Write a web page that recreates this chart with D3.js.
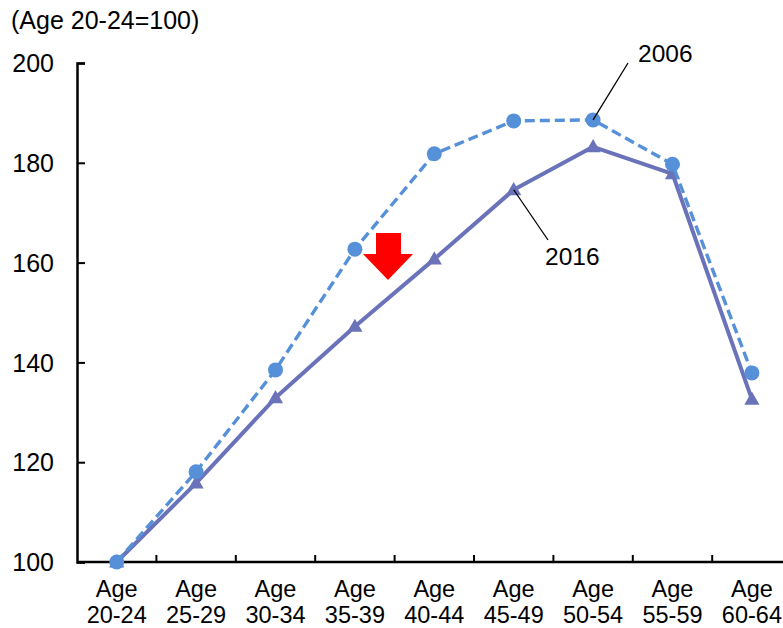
<!DOCTYPE html>
<html>
<head>
<meta charset="utf-8">
<script src="https://cdn.jsdelivr.net/npm/d3@7/dist/d3.min.js"></script>
<style>
body{margin:0;background:#fff;}
text{font-family:"Liberation Sans",Arial,sans-serif;fill:#000;}
</style>
</head>
<body>
<svg id="chart" width="783" height="628"></svg>
<script>
const categories = ["Age\n20-24","Age\n25-29","Age\n30-34","Age\n35-39","Age\n40-44","Age\n45-49","Age\n50-54","Age\n55-59","Age\n60-64"];
const values2006 = [100, 118.1, 138.5, 162.7, 181.8, 188.4, 188.6, 179.7, 137.9];
const values2016 = [100, 115.8, 132.9, 147.2, 160.7, 174.6, 183.2, 177.8, 132.6];
const yTicks = [100, 120, 140, 160, 180, 200];
const yTitle = "(Age 20-24=100)";

const svg = d3.select("#chart");
const mLeft = 77, mTop = 63, mBottom = 562;
const bandW = 79.4;
const x = d3.scaleBand().domain(categories).range([mLeft, mLeft + bandW*categories.length]).padding(0);
const y = d3.scaleLinear().domain([100, 200]).range([mBottom, mTop]);
const cx = d => x(d) + x.bandwidth()/2;

// axes
const yAxis = svg.append("g").attr("transform", `translate(${mLeft},0)`)
  .call(d3.axisLeft(y).tickValues(yTicks).tickSize(-8).tickPadding(31).tickFormat(d3.format("d")));
yAxis.select(".domain").attr("stroke","#000").attr("stroke-width",2.5);
yAxis.selectAll(".tick line").attr("stroke","#000").attr("stroke-width",2);
yAxis.selectAll(".tick text").attr("font-size",25).attr("font-family","Liberation Sans, Arial, sans-serif").attr("fill","#000").attr("x",-23).attr("dy","0.35em");

const xAxis = svg.append("g").attr("transform", `translate(0,${mBottom})`)
  .call(d3.axisBottom(x).tickSize(0).tickFormat(""));
xAxis.select(".domain").attr("stroke","#000").attr("stroke-width",2.5).attr("d", `M${mLeft},0H783`);
// boundary ticks
svg.append("g").selectAll("line").data(categories.slice(1)).join("line")
  .attr("x1", d => x(d)).attr("x2", d => x(d))
  .attr("y1", mBottom).attr("y2", mBottom - 7)
  .attr("stroke","#000").attr("stroke-width",2);
// category labels
const lab = svg.append("g").selectAll("text").data(categories).join("text")
  .attr("text-anchor","middle").attr("font-size",23.5);
lab.each(function(d){
  const parts = d.split("\n");
  const t = d3.select(this);
  t.append("tspan").attr("x", cx(d)).attr("y", 597).text(parts[0]);
  t.append("tspan").attr("x", cx(d)).attr("y", 623).text(parts[1]);
});

// title
svg.append("text").attr("x", 11).attr("y", 29).attr("font-size",25).text(yTitle);

const line = d3.line().x((d,i) => cx(categories[i])).y(d => y(d));

const c06 = "#5690d8", c16 = "#6a73b9";

// 2016 solid
svg.append("path").datum(values2016).attr("d", line).attr("fill","none")
  .attr("stroke", c16).attr("stroke-width",4).attr("stroke-linejoin","round");
svg.append("g").selectAll("path").data(values2016).join("path")
  .attr("d", d3.symbol(d3.symbolTriangle, 100))
  .attr("transform", (d,i) => `translate(${cx(categories[i])},${y(d)+1})`)
  .attr("fill", c16);

// 2006 dashed
svg.append("path").datum(values2006).attr("d", line).attr("fill","none")
  .attr("stroke", c06).attr("stroke-width",3.4).attr("stroke-dasharray","10,5");
svg.append("g").selectAll("circle").data(values2006).join("circle")
  .attr("cx", (d,i) => cx(categories[i])).attr("cy", d => y(d)).attr("r", 7.5)
  .attr("fill", c06);

// annotations
svg.append("line").attr("x1", 628).attr("y1", 63).attr("x2", cx(categories[6])).attr("y2", y(values2006[6]))
  .attr("stroke","#000").attr("stroke-width",1.3);
svg.append("text").attr("x", 638).attr("y", 62).attr("font-size",24.5).text("2006");
svg.append("line").attr("x1", 548).attr("y1", 240).attr("x2", cx(categories[5])).attr("y2", y(values2016[5]))
  .attr("stroke","#000").attr("stroke-width",1.3);
svg.append("text").attr("x", 545).attr("y", 265).attr("font-size",24.5).text("2016");

// red arrow
svg.append("path").attr("d","M376,233H401V254H413L388,280L363,254H376Z").attr("fill","#ff0000");
</script>
</body>
</html>
